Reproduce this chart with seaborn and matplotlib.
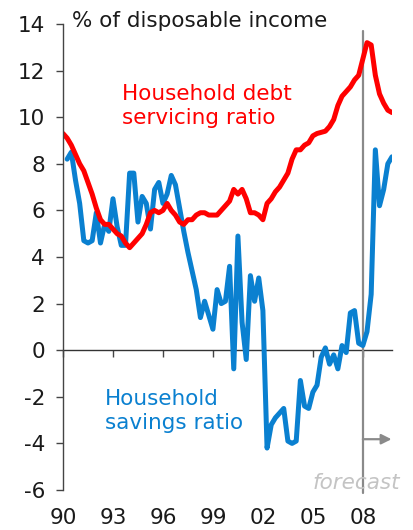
import numpy as np
import pandas as pd
import matplotlib
matplotlib.use("Agg")
import matplotlib.pyplot as plt
import seaborn as sns

# ---- data (quarterly, 1990Q1 .. 2009Q4) ----
start_year = 1990
debt_servicing = [
    9.3, 9.1, 8.8, 8.4, 8.0, 7.7, 7.2, 6.7, 6.1, 5.6,
    5.4, 5.4, 5.2, 5.0, 4.9, 4.6, 4.4, 4.6, 4.8, 5.0,
    5.4, 5.9, 6.0, 5.9, 6.0, 6.3, 6.0, 5.8, 5.5, 5.4,
    5.6, 5.6, 5.8, 5.9, 5.9, 5.8, 5.8, 5.8, 6.0, 6.2,
    6.4, 6.9, 6.7, 6.9, 6.5, 5.9, 5.9, 5.8, 5.6, 6.3,
    6.5, 6.8, 7.0, 7.3, 7.6, 8.2, 8.6, 8.6, 8.8, 8.9,
    9.2, 9.3, 9.35, 9.4, 9.6, 9.9, 10.5, 10.9, 11.1, 11.3,
    11.6, 11.8, 12.5, 13.2, 13.1, 11.8, 11.0, 10.6, 10.3, 10.2,
]
savings = [
    np.nan, 8.2, 8.5, 7.3, 6.3, 4.7, 4.6, 4.7, 5.9, 4.6,
    5.4, 5.1, 6.5, 5.3, 4.5, 4.5, 7.6, 7.6, 5.5, 6.6,
    6.3, 5.2, 6.9, 7.2, 6.3, 6.7, 7.5, 7.1, 6.1, 5.1,
    4.2, 3.4, 2.6, 1.4, 2.1, 1.5, 0.9, 2.6, 2.0, 2.1,
    3.6, -0.8, 4.9, 1.2, -0.4, 3.2, 2.1, 3.1, 1.7, -4.2,
    -3.2, -2.9, -2.7, -2.5, -3.9, -4.0, -3.9, -1.3, -2.4, -2.5,
    -1.8, -1.5, -0.3, 0.1, -0.6, -0.2, -0.8, 0.2, -0.1, 1.6,
    1.7, 0.3, 0.2, 0.8, 2.4, 8.6, 6.2, 6.9, 8.0, 8.3,
]
x_tick_years = [1990, 1993, 1996, 1999, 2002, 2005, 2008]
x_tick_labels = ["90", "93", "96", "99", "02", "05", "08"]
y_ticks = [-6, -4, -2, 0, 2, 4, 6, 8, 10, 12, 14]
forecast_start = 2008

years = start_year + np.arange(len(debt_servicing)) / 4
df = pd.DataFrame({"year": years, "debt": debt_servicing, "savings": savings})

# ---- style ----
sns.set_style("white")
plt.rcParams["font.family"] = ["DejaVu Sans"]
plt.rcParams["axes.unicode_minus"] = False
FS = 15.5
RED = "#FF0000"
BLUE = "#0A80D0"
GREY = "#8A8A8A"

W, H = 413, 530
fig = plt.figure(figsize=(W / 100, H / 100), dpi=100)
ax = fig.add_axes([63 / W, 1 - 490 / H, (392 - 63) / W, (490 - 24) / H])

sns.lineplot(data=df, x="year", y="savings", color=BLUE, lw=3.6, ax=ax)
sns.lineplot(data=df, x="year", y="debt", color=RED, lw=3.6, ax=ax)

ax.set_xlim(1990, 2009.75)
ax.set_ylim(-6, 14)
ax.set_xlabel("")
ax.set_ylabel("")

# spines
for s in ["top", "right", "bottom"]:
    ax.spines[s].set_visible(False)
ax.spines["left"].set_color("#444444")
ax.spines["left"].set_linewidth(1.0)

# y ticks
ax.set_yticks(y_ticks)
ax.tick_params(axis="y", left=True, length=5, width=1, color="#444444",
               pad=8, labelsize=FS, labelcolor="#1a1a1a", direction="out")

# x labels at bottom, tick marks at zero line
ax.set_xticks(x_tick_years, x_tick_labels)
ax.tick_params(axis="x", length=0, pad=13, labelsize=FS, labelcolor="#1a1a1a")
zero_pos = (0 - (-6)) / (14 - (-6))
sec = ax.secondary_xaxis(zero_pos)
sec.set_xticks(x_tick_years)
sec.tick_params(axis="x", length=5, width=1, color="#444444", direction="out",
                labelbottom=False, labeltop=False)
sec.spines["bottom"].set_color("#333333")
sec.spines["bottom"].set_linewidth(1.0)

# forecast marker
ax.axvline(forecast_start, ymin=-0.007, ymax=0.985, color=GREY, lw=1.6,
           clip_on=False, zorder=1)
ax.annotate("", xy=(2009.72, -3.82), xytext=(forecast_start, -3.82),
            arrowprops=dict(arrowstyle="-|>", color=GREY, lw=1.6,
                            mutation_scale=15, shrinkA=0, shrinkB=0))
ax.text(2007.6, -5.72, "forecast", style="italic", color="#C4C4C4",
        ha="center", va="center", fontsize=FS, clip_on=False)

# labels
fig.text(72 / W, 1 - 21 / H, "% of disposable income", ha="left", va="center",
         fontsize=FS, color="#1a1a1a")
ax.text(1993.55, 10.5, "Household debt\nservicing ratio", color=RED,
        ha="left", va="center", fontsize=FS, linespacing=1.25)
ax.text(1992.5, -2.62, "Household\nsavings ratio", color=BLUE,
        ha="left", va="center", fontsize=FS, linespacing=1.25)

fig.savefig("out.png", dpi=100)
